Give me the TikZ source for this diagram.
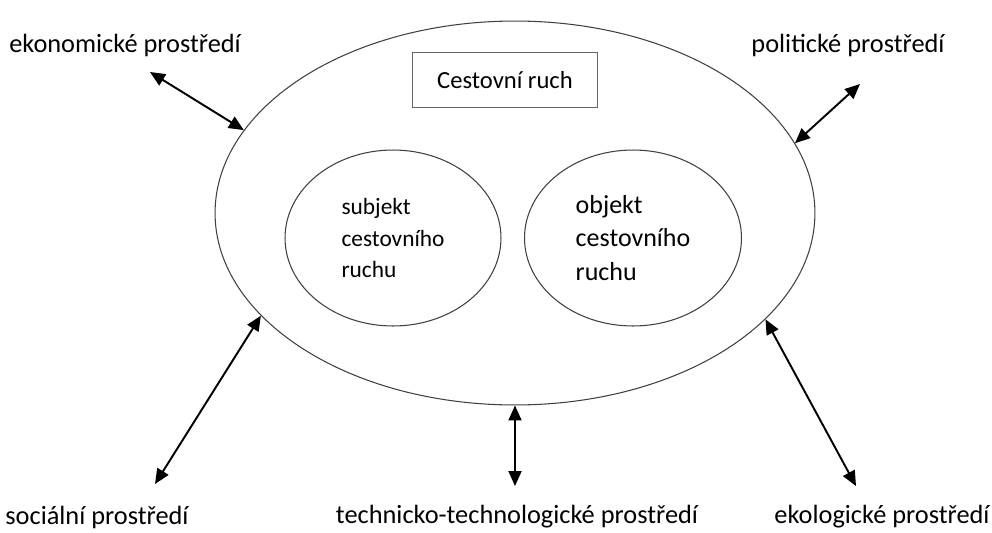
\documentclass[tikz,border=0pt]{standalone}
\usepackage{fontspec}
\setmainfont{Carlito}
\usepackage{tikz}
\usepackage{xcolor}
\usetikzlibrary{shapes.geometric}
\usetikzlibrary{arrows.meta}
\usetikzlibrary{positioning}

\tikzset{
  env/.style={font=\fontsize{15}{17}\selectfont},
  oval/.style={draw=black!75, line width=0.6pt, ellipse, inner sep=0pt},
  link/.style={{Triangle[length=0.3cm,width=0.26cm]}-{Triangle[length=0.3cm,width=0.26cm]}, line width=1.1pt}
}

\begin{document}
\begin{tikzpicture}[x=0.02cm,y=-0.02cm]
\useasboundingbox (0,0) rectangle (992,532);

% Big ellipse (node)
\node[oval, minimum width=12cm, minimum height=7.68cm] (ruch) at (515,213) {};
% Title box (node)
\node[draw=black!60, line width=0.6pt, rectangle, minimum width=3.7cm, minimum height=1.1cm,
  font=\fontsize{14}{16}\selectfont] (title) at (505,80) {Cestovní ruch};

% Inner ellipses (node)
\node[oval, minimum width=4.32cm, minimum height=3.52cm, align=left,
  font=\fontsize{13.3}{17.9}\selectfont] (subj) at (393,238) {subjekt\\cestovního\\ruchu};
\node[oval, minimum width=4.34cm, minimum height=3.52cm, align=left,
  font=\fontsize{14.8}{19}\selectfont] (obj) at (633,238) {objekt\\cestovního\\ruchu};

% Environments (node)
\node[env] (eko) at (125,45) {ekonomické prostředí};
\node[env] (pol) at (848,45) {politické prostředí};
\node[env] (soc) at (97,517) {sociální prostředí};
\node[env] (tech) at (517,517) {technicko-technologické prostředí};
\node[env] (ekol) at (882,517) {ekologické prostředí};

% Free arrow ends
\coordinate (eko1) at (150,72);
\coordinate (pol1) at (860,84);
\coordinate (soc1) at (155,484);
\coordinate (tech1) at (515,486);
\coordinate (ekol1) at (856,486);

% Arrows from environments to ellipse
\draw[link] (eko1) -- (ruch.163.5);
\draw[link] (pol1) -- (ruch.14.5);
\draw[link] (soc1) -- (ruch.202.4);
\draw[link] (tech1) -- (ruch.south);
\draw[link] (ekol1) -- (ruch.337.8);
\end{tikzpicture}
\end{document}
